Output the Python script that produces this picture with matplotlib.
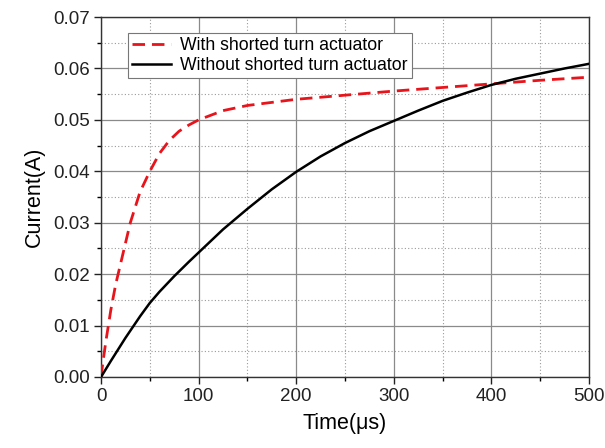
import matplotlib
matplotlib.use('Agg')
import matplotlib.pyplot as plt
from matplotlib.ticker import MultipleLocator, FormatStrFormatter

# ============ 数据 ============
t_with = [0, 2, 5, 10, 15, 20, 25, 30, 35, 40, 45, 50, 60, 70, 80, 90, 100, 125, 150, 200,
          250, 300, 350, 400, 450, 500]
i_with = [0.0, 0.003, 0.007, 0.013, 0.018, 0.022, 0.026, 0.030, 0.033, 0.036, 0.038, 0.040,
          0.0435, 0.046, 0.0478, 0.049, 0.0500, 0.0518, 0.0528, 0.0540, 0.0548, 0.0556,
          0.0563, 0.0570, 0.0577, 0.0583]

t_without = [0, 10, 25, 40, 50, 60, 75, 90, 100, 125, 150, 175, 200, 225, 250, 275, 300,
             325, 350, 375, 400, 425, 450, 475, 500]
i_without = [0.0, 0.0031, 0.0076, 0.0118, 0.0144, 0.0166, 0.0196, 0.0224, 0.0242, 0.0287,
             0.0327, 0.0365, 0.0399, 0.0429, 0.0455, 0.0478, 0.0498, 0.0518, 0.0537, 0.0553,
             0.0568, 0.0580, 0.0590, 0.0600, 0.0609]

x_ticks = [0, 100, 200, 300, 400, 500]
y_ticks = [0.00, 0.01, 0.02, 0.03, 0.04, 0.05, 0.06, 0.07]

# ============ 绘图 ============
plt.rcParams['font.family'] = ['Liberation Sans', 'DejaVu Sans']

fig = plt.figure(figsize=(6.05, 4.48), dpi=100)
ax = fig.add_axes([0.167, 0.1585, 0.8066, 0.8035])

ax.plot(t_with, i_with, color='#e8141c', linewidth=2, linestyle=(0, (4.5, 2.5)),
        label='With shorted turn actuator', zorder=3)
ax.plot(t_without, i_without, color='black', linewidth=1.8,
        label='Without shorted turn actuator', zorder=3)

ax.set_xlim(0, 500)
ax.set_ylim(0, 0.07)
ax.set_xticks(x_ticks)
ax.set_yticks(y_ticks)
ax.yaxis.set_major_formatter(FormatStrFormatter('%.2f'))
ax.xaxis.set_minor_locator(MultipleLocator(50))
ax.yaxis.set_minor_locator(MultipleLocator(0.005))

ax.grid(True, which='major', color='#8a8a8a', linewidth=0.9, linestyle='-')
ax.grid(True, which='minor', color='#9a9a9a', linewidth=0.8, linestyle=(0, (1, 2)))
ax.set_axisbelow(True)

ax.tick_params(which='major', direction='out', length=5, width=1, labelsize=13.5,
               colors='#222222', pad=3)
ax.tick_params(which='minor', direction='out', length=3, width=1)
for s in ax.spines.values():
    s.set_color('#333333')
    s.set_linewidth(1)

ax.set_xlabel('Time(\u03bcs)', fontsize=15.5, labelpad=6)
ax.set_ylabel('Current(A)', fontsize=15.5, labelpad=6)

leg = ax.legend(loc='upper left', bbox_to_anchor=(0.055, 0.956), fontsize=12.7,
                frameon=True, fancybox=False, handlelength=2.2,
                borderpad=0.25, labelspacing=0.15, handletextpad=0.5, borderaxespad=0)
leg.get_frame().set_edgecolor('#777777')
leg.get_frame().set_linewidth(0.8)
leg.get_frame().set_alpha(1)

fig.savefig('out.png', dpi=100)
plt.close()
